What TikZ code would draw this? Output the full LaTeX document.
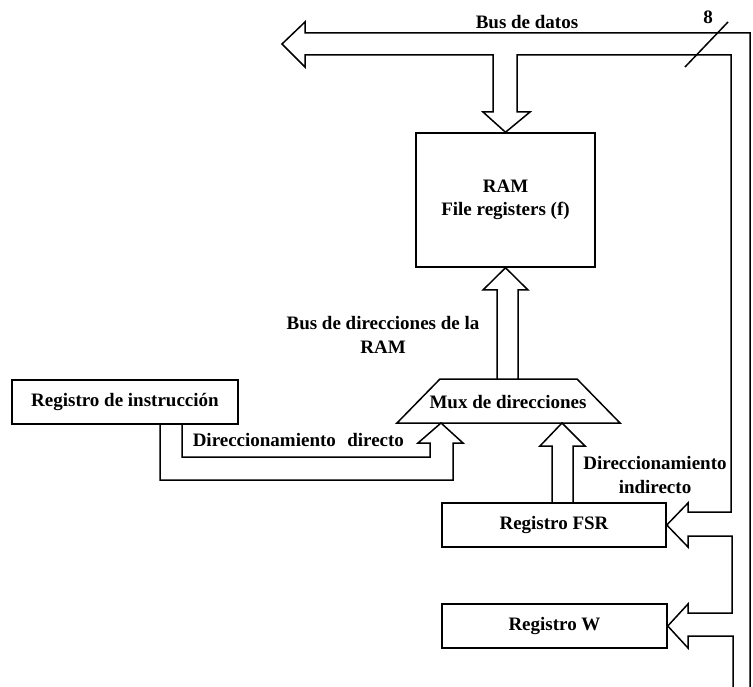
\documentclass[tikz,border=0pt]{standalone}
\usepackage{fontspec}
\setmainfont{Liberation Serif}
\usetikzlibrary{calc}
\begin{document}
\begin{tikzpicture}[x=1pt,y=-1pt, line width=1.5pt, line join=miter,
  every node/.style={font=\bfseries\fontsize{19}{23.5}\selectfont, inner sep=0pt},
  block/.style={draw, rectangle, align=center},
  lbl/.style={align=center}]
\useasboundingbox (0,0) rectangle (753,687);

% blocks
\node[block, minimum width=179pt, minimum height=134pt] (ram) at (505.5,200) {RAM\\File registers (f)};
\node[block, minimum width=226pt, minimum height=44pt] (ir) at (125,402) {Registro de instrucción};
\node[block, minimum width=224pt, minimum height=44pt] (fsr) at (554,525) {Registro FSR};
\node[block, minimum width=225pt, minimum height=44pt] (w) at (554.5,626) {Registro W};

% address multiplexer (trapezoid)
\coordinate (m1) at (397,423);
\coordinate (m2) at (440,379);
\coordinate (m3) at (577,379);
\coordinate (m4) at (620,423);
\draw (m1) -- (m2) -- (m3) -- (m4) -- cycle;
\node (mux) at (508,402) {Mux de direcciones};

% data bus (hollow, 8 bits)
\coordinate (dout) at (282,44);
\draw (750,687) -- (750,33) -- (305,33) -- (305,22) -- (dout) -- (305,67) -- (305,55)
  -- (493,55) -- (493,112) -- (483,112) -- (ram.north) -- (530,112) -- (517,112) -- (517,55)
  -- (731,55) -- (731,512) -- (688,512) -- (688,503) -- (fsr.east) -- (688,547) -- (688,536)
  -- (732,536) -- (732,613) -- (688,613) -- (688,604) -- (w.east) -- (688,648) -- (688,636)
  -- (733,636) -- (733,687);
\draw (685,67) -- (728,22);
\node (n8) at (708,17) {8};
\node[lbl] (bdat) at (527,22) {Bus de datos};

% RAM address bus
\draw (497,0 |- m2) -- (497,290) -- (483,290) -- (ram.south) -- (528,290) -- (518,290) -- (518,0 |- m2);
\node[lbl] (bdir) at (383,335) {Bus de direcciones de la\\RAM};

% direct addressing from the instruction register
\draw (160,0 |- ir.south) -- (160,480) -- (453,480) -- (453,443) -- (463,443) -- (441,0 |- m1)
  -- (418,443) -- (430,443) -- (430,457) -- (182,457) -- (182,0 |- ir.south);
\node[anchor=west] (ddir) at (192,440) {Direccionamiento\hspace{0.6em}directo};

% indirect addressing through FSR
\draw (552,0 |- fsr.north) -- (552,446) -- (540,446) -- (562,0 |- m1) -- (585,446) -- (573,446) -- (573,0 |- fsr.north);
\node[lbl] (dind) at (655,475) {Direccionamiento\\indirecto};
\end{tikzpicture}
\end{document}
